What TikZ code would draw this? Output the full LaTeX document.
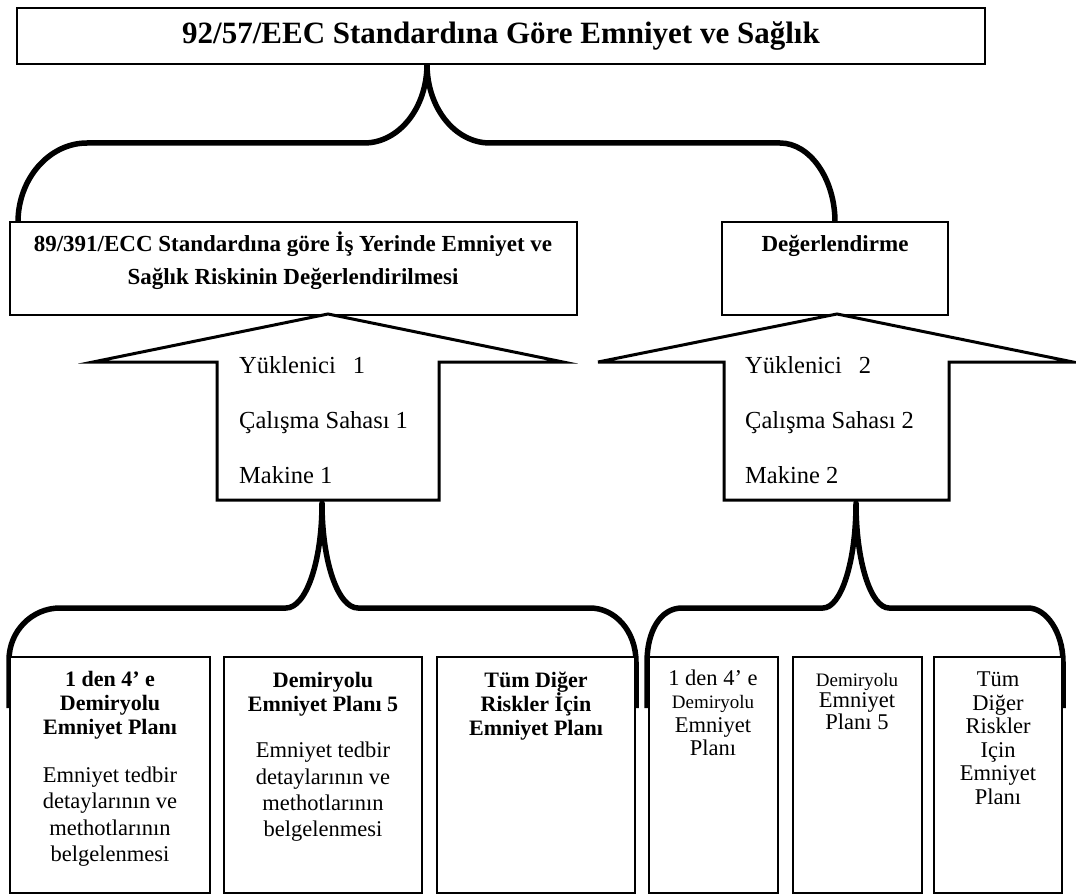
\documentclass[tikz,border=0pt]{standalone}
\usepackage{fontspec}
\setmainfont{Liberation Serif}
\usetikzlibrary{backgrounds}
\begin{document}
\begin{tikzpicture}[x=1pt,y=-1pt,
  frame/.style={draw=black, fill=white, line width=1.6pt, inner sep=0pt, outer sep=0pt},
  brace/.style={draw=black, line width=5.5pt, line join=round},
  upshape/.style={draw=black, fill=white, line width=3pt, line join=miter},
  bigtitle/.style={font=\fontsize{31}{34}\selectfont\bfseries, inner sep=0pt},
  headtext/.style={font=\fontsize{23}{33}\selectfont\bfseries, align=center, inner sep=0pt},
  itemtext/.style={font=\fontsize{24.5}{26}\selectfont, anchor=base west, inner sep=0pt},
  plantitle/.style={font=\fontsize{22}{24}\selectfont\bfseries, align=center, inner sep=0pt},
  plannote/.style={font=\fontsize{22.5}{26.4}\selectfont, align=center, inner sep=0pt},
  smallplan/.style={font=\fontsize{22.5}{23.5}\selectfont, align=center, inner sep=0pt},
  smallword/.style={font=\fontsize{19}{20}\selectfont},
]
\useasboundingbox (0,0) rectangle (1076,896);

% ---- boxes ----
\node[frame, minimum width=968pt, minimum height=56pt] (top) at (501,36) {};
\node[frame, minimum width=567pt, minimum height=93pt] (b1) at (293.5,268.5) {};
\node[frame, minimum width=226pt, minimum height=93pt] (b2) at (835,268.5) {};

\node[frame, minimum width=200pt, minimum height=236pt] (pA) at (110,775) {};
\node[frame, minimum width=198pt, minimum height=236pt] (pB) at (323,775) {};
\node[frame, minimum width=198pt, minimum height=236pt] (pC) at (536,775) {};
\node[frame, minimum width=129pt, minimum height=236pt] (pD) at (713.5,775) {};
\node[frame, minimum width=129pt, minimum height=236pt] (pE) at (857.5,775) {};
\node[frame, minimum width=128pt, minimum height=236pt] (pF) at (998,775) {};

% ---- block arrows pointing up into the two assessment boxes ----
\coordinate (a1tip) at (328,314);
\coordinate (a2tip) at (837,314);
\draw[upshape] (a1tip) -- (563,362) -- (439,362) -- (439,500) -- (217,500)
  -- (217,362) -- (93,362) -- cycle;
\draw[upshape] (a2tip) -- (1073,362) -- (949,362) -- (949,500) -- (724,500)
  -- (724,362) -- (598,362) -- cycle;
\coordinate (a1foot) at (322,503);
\coordinate (a2foot) at (856,503);

% ---- curly braces (behind the boxes) ----
\begin{scope}[on background layer]
\fill[white] (0,0) rectangle (1076,896);
\coordinate (cTop) at (427,64);
\coordinate (eL) at ([xshift=8pt]b1.north west);
\coordinate (eR) at (b2.north);
\draw[brace] (eL) .. controls (18,179) and (49,143) .. (87,143) -- (364,143)
  .. controls (399,143) and (427,108) .. (cTop)
  .. controls (427,108) and (455,143) .. (490,143) -- (780,143)
  .. controls (810,143) and (835,179) .. (eR);

\coordinate (fA) at (9,708);
\coordinate (fC) at (636,708);
\draw[brace] (fA) -- (9,660) .. controls (9,631) and (32,608) .. (60,608) -- (286,608)
  .. controls (306,608) and (322,562) .. (a1foot)
  .. controls (322,562) and (338,608) .. (358,608) -- (590,608)
  .. controls (615,608) and (636,631) .. (636,662) -- (fC);

\coordinate (fD) at (647,708);
\coordinate (fF) at (1063,708);
\draw[brace] (fD) -- (647,662) .. controls (647,632) and (660,608) .. (682,608) -- (823,608)
  .. controls (841,608) and (856,562) .. (a2foot)
  .. controls (856,562) and (871,608) .. (889,608) -- (1028,608)
  .. controls (1046,608) and (1063,632) .. (1063,662) -- (fF);
\end{scope}

% ---- texts ----
\node[bigtitle] (ttl) at (top.center) {92/57/EEC Standardına Göre Emniyet ve Sağlık};
\node[headtext] (t1) at (293,261) {89/391/ECC Standardına göre İş Yerinde Emniyet ve\\Sağlık Riskinin Değerlendirilmesi};
\node[headtext] (t2) at (835,246) {Değerlendirme};

\node[itemtext] (y1) at (239,373) {Yüklenici\hspace{0.7em}1};
\node[itemtext] (s1) at (239,428) {Çalışma Sahası 1};
\node[itemtext] (m1) at (239,483) {Makine 1};
\node[itemtext] (y2) at (745,373) {Yüklenici\hspace{0.7em}2};
\node[itemtext] (s2) at (745,428) {Çalışma Sahası 2};
\node[itemtext] (m2) at (745,483) {Makine 2};

\node[plantitle] (hA) at (110,705.5) {1 den 4’ e\\Demiryolu\\Emniyet Planı};
\node[plannote] (nA) at (110,816.5) {Emniyet tedbir\\detaylarının ve\\methotlarının\\belgelenmesi};
\node[plantitle] (hB) at (323,694) {Demiryolu\\Emniyet Planı 5};
\node[plannote] (nB) at (323,792) {Emniyet tedbir\\detaylarının ve\\methotlarının\\belgelenmesi};
\node[plantitle] (hC) at (536,706) {Tüm Diğer\\Riskler İçin\\Emniyet Planı};

\node[smallplan] (hD) at (713,713) {1 den 4’ e\\{\fontsize{19}{20}\selectfont Demiryolu}\\Emniyet\\Planı};
\node[smallplan, font=\fontsize{22.5}{21.5}\selectfont] (hE) at (857,701.5) {{\fontsize{19}{20}\selectfont Demiryolu}\\Emniyet\\Planı 5};
\node[smallplan] (hF) at (998,738) {Tüm\\Diğer\\Riskler\\Için\\Emniyet\\Planı};
\end{tikzpicture}
\end{document}
